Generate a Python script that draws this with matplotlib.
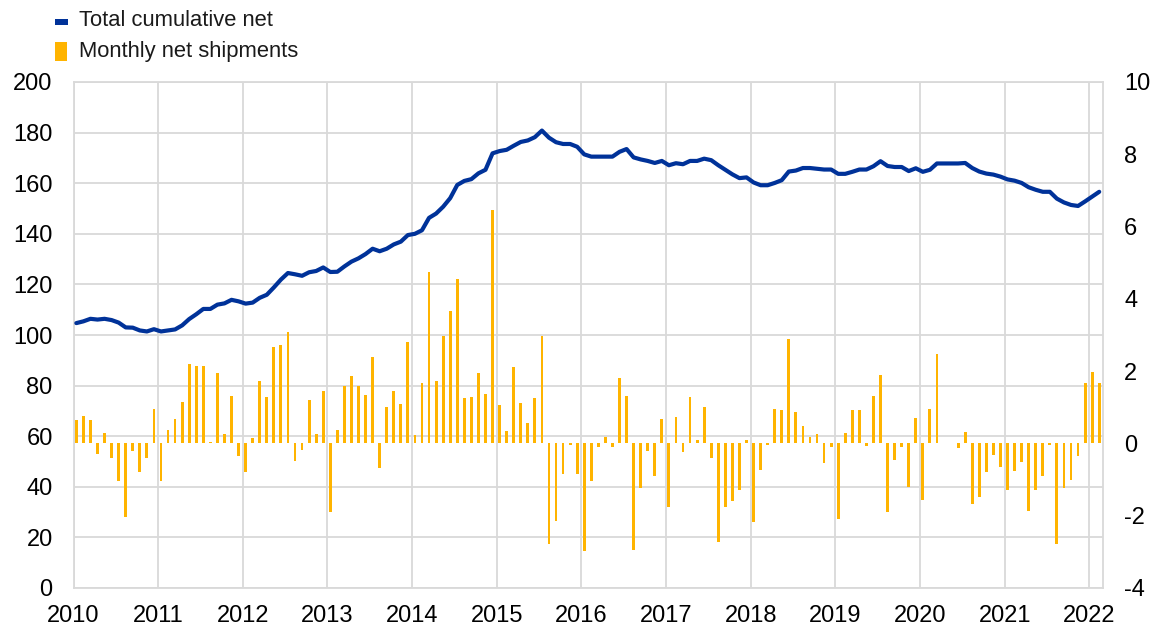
import numpy as np
import matplotlib
matplotlib.use("Agg")
import matplotlib.pyplot as plt
from matplotlib.patches import Rectangle

plt.rcParams['font.family'] = ['Liberation Sans', 'DejaVu Sans']
plt.rcParams['axes.unicode_minus'] = False

# ---- data ----
years = list(range(2010, 2023))
monthly_net = [
    # 2010
    0.64, 0.76, 0.64, -0.30, 0.28, -0.39, -1.03, -2.03, -0.22, -0.80, -0.39, 0.96,
    # 2011
    -1.03, 0.38, 0.67, 1.14, 2.21, 2.14, 2.14, 0.03, 1.95, 0.25, 1.31, -0.36,
    # 2012
    -0.80, 0.14, 1.73, 1.28, 2.67, 2.72, 3.08, -0.49, -0.19, 1.21, 0.25, 1.44,
    # 2013
    -1.90, 0.38, 1.59, 1.86, 1.59, 1.34, 2.38, -0.68, 1.02, 1.44, 1.09, 2.82,
    # 2014
    0.22, 1.66, 4.75, 1.73, 2.96, 3.67, 4.56, 1.25, 1.28, 1.95, 1.37, 6.46,
    # 2015
    1.05, 0.34, 2.12, 1.11, 0.56, 1.25, 2.96, -2.77, -2.15, -0.84, -0.04, -0.84,
    # 2016
    -2.99, -1.03, -0.10, 0.18, -0.10, 1.80, 1.31, -2.96, -1.22, -0.20, -0.90, 0.67,
    # 2017
    -1.77, 0.73, -0.23, 1.28, 0.09, 1.02, -0.39, -2.74, -1.77, -1.58, -1.30, 0.09,
    # 2018
    -2.18, -0.74, -0.04, 0.95, 0.92, 2.90, 0.86, 0.47, 0.18, 0.25, -0.55, -0.10,
    # 2019
    -2.08, 0.28, 0.92, 0.92, -0.07, 1.31, 1.89, -1.90, -0.46, -0.10, -1.20, 0.70,
    # 2020
    -1.56, 0.95, 2.47, 0.02, 0.02, -0.13, 0.31, -1.68, -1.47, -0.80, -0.32, -0.65,
    # 2021
    -1.28, -0.77, -0.51, -1.87, -1.28, -0.91, -0.03, -2.77, -1.22, -1.01, -0.36, 1.66,
    # 2022
    1.97, 1.66,
]
cumulative_net = [
    # 2010
    104.7, 105.4, 106.4, 106.1, 106.4, 105.9, 104.9, 103.0, 102.9, 101.8, 101.4, 102.3,
    # 2011
    101.4, 101.8, 102.2, 103.8, 106.3, 108.2, 110.3, 110.3, 112.0, 112.5, 113.9, 113.3,
    # 2012
    112.4, 112.8, 114.7, 115.9, 118.8, 121.9, 124.5, 124.0, 123.4, 124.8, 125.3, 126.7,
    # 2013
    124.9, 125.0, 127.1, 129.0, 130.3, 132.0, 134.1, 133.1, 134.1, 135.8, 136.9, 139.5,
    # 2014
    140.0, 141.4, 146.3, 148.0, 150.7, 154.1, 159.3, 160.9, 161.6, 163.9, 165.3, 171.8,
    # 2015
    172.7, 173.2, 174.8, 176.3, 176.9, 178.2, 180.8, 178.0, 176.2, 175.5, 175.5, 174.4,
    # 2016
    171.4, 170.5, 170.5, 170.5, 170.5, 172.4, 173.5, 170.2, 169.4, 168.8, 168.0, 168.8,
    # 2017
    167.1, 167.9, 167.5, 168.8, 168.8, 169.7, 169.1, 167.1, 165.3, 163.5, 162.0, 162.3,
    # 2018
    160.3, 159.2, 159.2, 160.1, 161.2, 164.6, 165.0, 166.0, 166.0, 165.7, 165.4, 165.4,
    # 2019
    163.7, 163.7, 164.5, 165.4, 165.4, 166.7, 168.7, 166.8, 166.4, 166.4, 164.8, 165.9,
    # 2020
    164.5, 165.3, 167.8, 167.8, 167.8, 167.8, 168.0, 166.0, 164.6, 163.8, 163.4, 162.6,
    # 2021
    161.5, 161.0, 160.1, 158.4, 157.4, 156.6, 156.6, 153.9, 152.4, 151.4, 151.0, 152.8,
    # 2022
    154.7, 156.6,
]
left_ticks = list(range(0, 201, 20))
right_ticks = list(range(-4, 11, 2))
series_labels = ["Total cumulative net", "Monthly net shipments"]

BLUE = "#003299"
YELLOW = "#FFB400"
GRID = "#d9d9d9"

n = len(monthly_net)
t = 2010 + (np.arange(n) + 0.4) / 12.0

fig = plt.figure(figsize=(11.54, 6.28), dpi=100)
ax = fig.add_axes([73.5 / 1154, 1 - 588 / 628, (1103.3 - 73.5) / 1154, (588 - 82) / 628])
ax2 = ax.twinx()
ax3 = ax.twinx()

# background axes: grid + left ticks
ax.set_xlim(2010, 2022.165)
ax.set_ylim(0, 200)
ax.set_yticks(left_ticks)
ax.set_xticks(years)
ax.grid(True, color=GRID, linewidth=1.3)
ax.tick_params(axis='both', length=0, labelsize=17, colors="#000000")
ax.tick_params(axis='y', pad=15)
ax.tick_params(axis='x', pad=12)
for s in ax.spines.values():
    s.set_color(GRID)
    s.set_linewidth(1.3)

# bars on the right axis
ax2.bar(t, monthly_net, width=0.4 / 12, color=YELLOW, linewidth=0)
ax2.set_ylim(-4, 10)
ax2.set_yticks(right_ticks)
ax2.tick_params(axis='y', length=0, labelsize=17, pad=15)
for s in ax2.spines.values():
    s.set_visible(False)

# line on top
ax3.plot(t, cumulative_net, color=BLUE, linewidth=3.0, solid_capstyle='round', solid_joinstyle='round')
ax3.set_ylim(0, 200)
ax3.set_yticks([])
for s in ax3.spines.values():
    s.set_visible(False)
ax3.set_xlim(2010, 2022.165)

# legend (drawn in figure pixels)
W, H = 1154, 628
fig.add_artist(Rectangle((55 / W, 1 - 25 / H), 13 / W, 6 / H, transform=fig.transFigure,
                         facecolor=BLUE, edgecolor='none'))
fig.add_artist(Rectangle((55 / W, 1 - 61 / H), 12 / W, 19 / H, transform=fig.transFigure,
                         facecolor=YELLOW, edgecolor='none'))
fig.text(79 / W, 1 - 20.5 / H, series_labels[0], fontsize=15.8, va='center', ha='left', color="#1a1a1a")
fig.text(79 / W, 1 - 52 / H, series_labels[1], fontsize=15.8, va='center', ha='left', color="#1a1a1a")

fig.savefig("out.png", dpi=100)
